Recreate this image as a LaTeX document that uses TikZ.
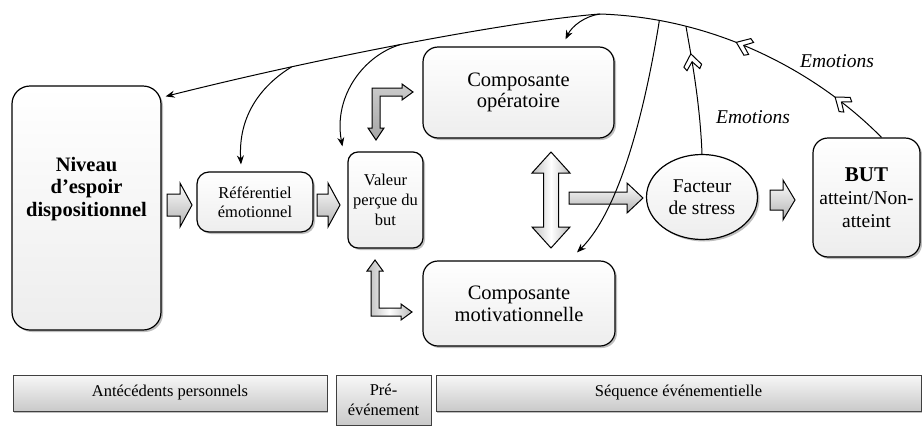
\documentclass[tikz,border=0pt]{standalone}
\usepackage{fontspec}
\setmainfont{Liberation Serif}
\usetikzlibrary{shapes.geometric,shadows,decorations.markings,arrows.meta,calc}

\newcommand{\hblk}[7]{\path[#7] ({#1},{#2-#4}) -- ({#1+#3-#6},{#2-#4}) -- ({#1+#3-#6},{#2-#5}) -- ({#1+#3},{#2}) -- ({#1+#3-#6},{#2+#5}) -- ({#1+#3-#6},{#2+#4}) -- ({#1},{#2+#4}) -- cycle;}
\newcommand{\chevshape}{\draw[fill=white,line width=1pt,line join=miter] (8,0) -- (-4,9) -- (-8,6.5) -- (0,0) -- (-8,-6.5) -- (-4,-9) -- cycle;}

\tikzset{
  box/.style={draw=black, line width=1.2pt, rounded corners=#1, top color=white, bottom color=gray!14,
    drop shadow={shadow xshift=2pt, shadow yshift=-2pt, opacity=.5}, align=center, inner sep=0pt},
  box/.default=12pt,
  bar/.style={draw=black!75, line width=0.9pt, top color=gray!6, bottom color=gray!42,
    drop shadow={shadow xshift=1pt, shadow yshift=-1.5pt, opacity=.5},
    font=\fontsize{16.5}{20}\selectfont, align=center, inner sep=0pt},
  conn/.style={draw=black, line width=1pt},
  tip/.style={-{Stealth[length=9pt,width=7pt]}},
  blk/.style={draw=black, line width=1pt, top color=white, bottom color=gray!60},
  elbowdark/.style={draw=black, line width=1pt, top color=gray!40, bottom color=gray!70},
  elbowlight/.style={draw=black, line width=1pt, left color=gray!55, right color=gray!55, middle color=white},
  dblk/.style={draw=black, line width=1pt, left color=gray!50, right color=gray!50, middle color=white},
  emo/.style={font=\itshape\fontsize{19.5}{20}\selectfont},
}

\begin{document}
\begin{tikzpicture}[x=1pt,y=-1pt]
\useasboundingbox (0,0) rectangle (922,426);

% main boxes
\node[box=18pt, minimum width=149pt, minimum height=244pt] (niv) at (86.5,208) {};
\node[font=\rmfamily\bfseries\fontsize{20.5}{22.5}\selectfont, align=center] (nivt) at (86.5,189) {Niveau\\d’espoir\\dispositionnel};
\node[box=12pt, minimum width=116pt, minimum height=60pt, font=\rmfamily\fontsize{16.5}{19}\selectfont] (ref) at (255,202) {Référentiel\\émotionnel};
\node[box=10pt, minimum width=75pt, minimum height=96pt, font=\rmfamily\fontsize{16.5}{20}\selectfont] (val) at (385.5,200) {Valeur\\perçue du\\but};
\node[box=15pt, minimum width=191pt, minimum height=91pt, font=\rmfamily\fontsize{20.5}{21.5}\selectfont] (cop) at (518.5,92.5) {Composante\\opératoire};
\node[box=15pt, minimum width=192pt, minimum height=85pt, font=\rmfamily\fontsize{20.5}{22}\selectfont] (cmo) at (519,303.5) {Composante\\motivationnelle};
\node[ellipse, draw=black, line width=1.2pt, top color=white, bottom color=gray!14,
  drop shadow={shadow xshift=2pt, shadow yshift=-2pt, opacity=.5},
  minimum width=111pt, minimum height=85pt, inner sep=0pt, align=center,
  font=\rmfamily\fontsize{19.5}{22}\selectfont] (fac) at (702,197) {Facteur\\de stress};
\node[box=15pt, minimum width=107pt, minimum height=119pt, font=\rmfamily\fontsize{19.5}{23}\selectfont] (but) at (866.5,197.5) {{\bfseries\fontsize{21}{23}\selectfont BUT}\\atteint/Non-\\atteint};

% bottom bars
\node[bar, minimum width=314pt, minimum height=36pt] (ant) at (170,393) {Antécédents personnels};
\node[bar, minimum width=95pt, minimum height=50pt] (pre) at (383.5,400) {Pré-\\événement};
\node[bar, minimum width=485pt, minimum height=36pt] (seq) at (678.5,393) {Séquence événementielle};

% block arrows
\hblk{167}{205}{25}{11}{22}{12}{blk}
\hblk{317}{205}{23}{11}{22}{12}{blk}
\hblk{569}{198}{74}{6}{15}{16}{blk}
\hblk{770}{200}{25}{10}{20}{12}{blk}

% vertical double arrow between components
\path[dblk] (551,152) -- (570,173) -- (558.5,173) -- (558.5,227) -- (570,227) -- (551,248)
  -- (532,227) -- (543.5,227) -- (543.5,173) -- (532,173) -- cycle;

% elbow arrows at Valeur
\path[elbowdark] (372,88) -- (402,88) -- (402,84) -- (413,92) -- (402,100) -- (402,96)
  -- (380,96) -- (380,128) -- (384,128) -- (376,140) -- (368,128) -- (372,128) -- cycle;
\path[elbowlight] (375,260) -- (383,271) -- (379,271) -- (379,308) -- (401,308) -- (401,304)
  -- (412,312) -- (401,320) -- (401,316) -- (371,316) -- (371,271) -- (367,271) -- cycle;

% main arc (right part with chevrons)
\draw[conn, postaction={decorate, decoration={markings,
    mark=at position 0.17 with {\chevshape},
    mark=at position 0.53 with {\chevshape}}}]
  ([xshift=15pt]but.north) .. controls (820,75) and (720,18) .. (600,14)
  coordinate[pos=0.75] (e1) coordinate[pos=0.83] (m1) coordinate (pk);
% main arc (left part)
\draw[conn, tip] (pk) .. controls (520,20) and (330,55) .. ($(niv.north east)+(4,11)$)
  coordinate[pos=0.53] (v1) coordinate[pos=0.75] (r1);

% branches
\draw[conn, tip] (r1) .. controls (262,85) and (238,115) .. ($(ref.north)+(-14,-7)$);
\draw[conn, tip] (v1) .. controls (365,55) and (333,95) .. ($(val.north west)+(-5,-5)$);
\draw[conn, tip] (pk) .. controls (585,16) and (572,26) .. ($(cop.north)+(47,-7)$);
\draw[conn, tip] (m1) .. controls (645,110) and (620,210) .. ($(cmo.north)+(58,-8)$);
\draw[conn, postaction={decorate, decoration={markings,
    mark=at position 0.72 with {\chevshape}}}]
  (fac.north) .. controls (700,100) and (690,50) .. (e1);

% labels
\node[emo] (em1) at (837,61) {Emotions};
\node[emo] (em2) at (753,117) {Emotions};
\end{tikzpicture}
\end{document}
